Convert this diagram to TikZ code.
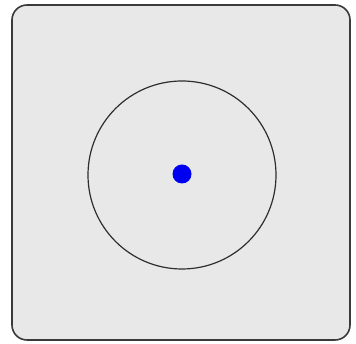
\documentclass[tikz,border=0pt]{standalone}
\usetikzlibrary{calc}
\definecolor{panelfill}{HTML}{E8E8E8}
\definecolor{panelline}{HTML}{3A3A3A}
\definecolor{ringline}{HTML}{2E2E2E}
\definecolor{dotblue}{HTML}{0000F0}
\tikzset{
  panel/.style={fill=panelfill, draw=panelline, line width=1.6pt, rounded corners=15pt},
  ring/.style={circle, draw=ringline, line width=1.2pt, minimum size=188pt, inner sep=0pt},
  centerdot/.style={circle, fill=dotblue, minimum size=19pt, inner sep=0pt}
}
\begin{document}
\begin{tikzpicture}[x=1pt,y=1pt]
\useasboundingbox (0,0) rectangle (356,344);
\fill[white] (0,0) rectangle (356,344);
\draw[panel] (12,4) rectangle (350,339);
\node[ring] (ring) at (182,169) {};
\node[centerdot] (dot) at (182,170) {};
\end{tikzpicture}
\end{document}
